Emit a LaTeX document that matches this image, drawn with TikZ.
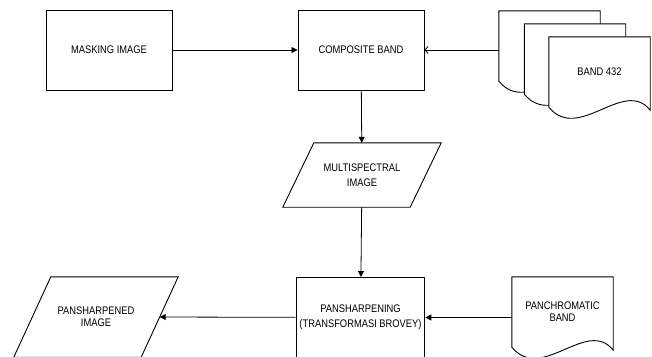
\documentclass[tikz,border=0pt]{standalone}
\usepackage{fontspec}
\setmainfont{Liberation Sans}[FakeStretch=0.85]
\usepackage{tikz}
\usetikzlibrary{calc,arrows.meta,backgrounds}

\tikzset{
  every node/.style={font=\fontsize{11}{12}\selectfont},
  box/.style={draw,line width=0.9pt,minimum width=126pt,minimum height=80pt,align=center},
  slanted/.style={minimum width=127pt,align=center},
  docbox/.style={minimum width=101pt,minimum height=70pt,inner sep=0pt,align=center},
  flow/.style={line width=0.8pt,-{Triangle[length=6pt,width=6pt]}},
  feed/.style={line width=0.8pt,-{Straight Barb[length=3pt,width=7pt]}}
}
\newcommand{\docpath}[1]{\draw[line width=0.9pt,fill=white] (#1.north west) -- (#1.north east)
  -- ($(#1.south east)+(0,3)$) .. controls ($(#1.south west)+(75,-30)$) and ($(#1.south west)+(30,36)$) .. (#1.south west) -- cycle;}

\begin{document}
\begin{tikzpicture}[x=1pt,y=-1pt]
  \useasboundingbox (0,0) rectangle (652,356);
  \node[box] (mask) at (109,50) {MASKING IMAGE};
  \node[box] (comp) at (361,50) {COMPOSITE BAND};
  \node[docbox] (b1) at (549.5,46) {};
  \node[docbox] (b2) at (575,59) {};
  \node[docbox] (b3) at (599.5,72) {BAND 432};
  \node[slanted,minimum height=64pt] (multi) at (362,175) {MULTISPECTRAL\\[3pt]IMAGE};
  \node[box] (sharp) at (360.5,317.5) {PANSHARPENING\\[3pt](TRANSFORMASI BROVEY)};
  \node[slanted,minimum height=80pt] (pansh) at (96,317) {PANSHARPENED\\IMAGE};
  \node[docbox] (pan) at (562.5,312) {PANCHROMATIC\\BAND};
  % document outlines
  \begin{scope}[on background layer]
    \foreach \d in {b1,b2,b3,pan} {\docpath{\d}}
  \end{scope}
  % parallelograms
  \foreach \p/\s in {multi/15.5,pansh/18.5}
    \draw[line width=0.9pt] ($(\p.north west)+(\s,0)$) -- ($(\p.north east)+(\s,0)$)
      -- ($(\p.south east)-(\s,0)$) -- ($(\p.south west)-(\s,0)$) -- cycle;
  \draw[flow] (mask) -- (comp);
  \draw[feed] (comp.east -| b1.west) -- (comp.east);
  \draw[flow] (comp) -- (multi);
  \draw[flow] (multi) -- (sharp);
  \draw[flow] (sharp.east -| pan.west) -- (sharp.east);
  \draw[flow] (sharp) -- (pansh.east);
\end{tikzpicture}
\end{document}
